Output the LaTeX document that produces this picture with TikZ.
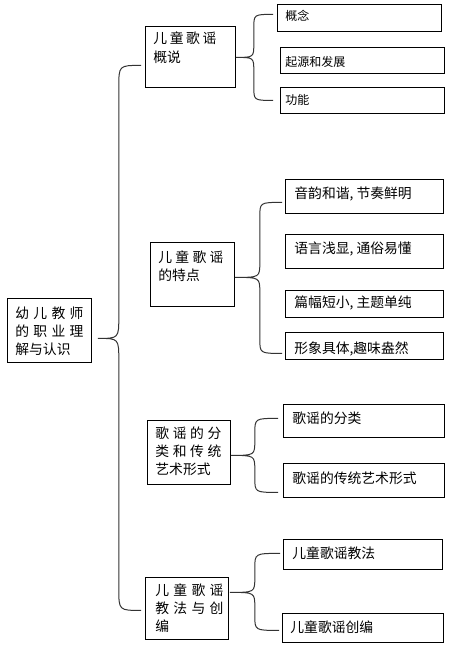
\documentclass[tikz,border=0pt]{standalone}
\usepackage{fontspec}
\newfontfamily\cjk{Noto Sans CJK SC}
\usetikzlibrary{calc}
\newcommand\bxt[5]{\parbox[t][#2][t]{#1}{\leftskip=#3\parindent=0pt\rule{0pt}{#4}#5}}
\newcommand\brc[5]{%
  \draw[brace] let \p1=(#1), \p2=(#2), \p3=(#3), \n1={\x2+#4} in
    (\p1) .. controls (\n1,\y1) .. (\n1,\y1-#5) -- (\n1,\y2+#5)
    .. controls (\n1,\y2) .. (\p2)
    .. controls (\n1,\y2) .. (\n1,\y2-#5) -- (\n1,\y3+#5)
    .. controls (\n1,\y3) .. (\p3);}
\begin{document}
\begin{tikzpicture}[x=1pt,y=-1pt,
  box/.style={draw=black, line width=0.8pt, inner sep=0pt, anchor=north west,
    font=\cjk\fontsize{13.8}{18}\selectfont},
  sbox/.style={box, font=\cjk\fontsize{12}{16}\selectfont},
  brace/.style={draw=black!80, line width=1pt}]
\useasboundingbox (0,0) rectangle (451,647);
% parent boxes
\node[box] (root) at (7,298) {\bxt{84pt}{64pt}{8pt}{20pt}{\makebox[68pt][s]{幼\hfill 儿\hfill 教\hfill 师}\\\makebox[68pt][s]{的\hfill 职\hfill 业\hfill 理}\\解与认识}};
\node[box] (b1) at (145,26) {\bxt{90pt}{61pt}{8pt}{17pt}{\makebox[63pt][s]{儿\hfill 童\hfill 歌\hfill 谣}\\[1pt]概说}};
\node[box] (b2) at (150,242) {\bxt{84pt}{64pt}{8pt}{20pt}{\makebox[65pt][s]{儿\hfill 童\hfill 歌\hfill 谣}\\的特点}};
\node[box] (b3) at (147,420) {\bxt{83pt}{64pt}{8pt}{18pt}{\makebox[66pt][s]{歌\hfill 谣\hfill 的\hfill 分}\\\makebox[66pt][s]{类\hfill 和\hfill 传\hfill 统}\\艺术形式}};
\node[box] (b4) at (145,577) {\bxt{83pt}{62pt}{10pt}{18pt}{\makebox[68pt][s]{儿\hfill 童\hfill 歌\hfill 谣}\\\makebox[68pt][s]{教\hfill 法\hfill 与\hfill 创}\\编}};
% children
\node[sbox] (c11) at (277,4) {\bxt{164pt}{27pt}{8pt}{16.6pt}{概念}};
\node[sbox] (c12) at (280,47) {\bxt{164pt}{26pt}{5pt}{19.3pt}{起源和发展}};
\node[sbox] (c13) at (280,87) {\bxt{164pt}{26pt}{5pt}{17.6pt}{功能}};
\node[box] (c21) at (285,179) {\bxt{158pt}{34pt}{9pt}{19pt}{音韵和谐, 节奏鲜明}};
\node[box] (c22) at (285,234) {\bxt{158pt}{34pt}{9pt}{19pt}{语言浅显, 通俗易懂}};
\node[box] (c23) at (285,290) {\bxt{158pt}{27pt}{9pt}{17pt}{篇幅短小, 主题单纯}};
\node[box] (c24) at (285,332) {\bxt{158pt}{27pt}{9pt}{21pt}{形象具体,趣味盎然}};
\node[box] (c31) at (283,404) {\bxt{161pt}{33pt}{9pt}{19pt}{歌谣的分类}};
\node[box] (c32) at (283,463) {\bxt{161pt}{34pt}{9pt}{20pt}{歌谣的传统艺术形式}};
\node[box] (c41) at (283,539) {\bxt{159pt}{30pt}{9pt}{19pt}{儿童歌谣教法}};
\node[box] (c42) at (282,613) {\bxt{161pt}{29pt}{8pt}{19pt}{儿童歌谣创编}};
% brace end points
\coordinate (m-top) at ([xshift=-4pt,yshift=-8.5pt]b1.west);
\coordinate (m-tip) at ([xshift=6pt,yshift=-8pt]root.east);
\coordinate (m-bot) at ([xshift=-4pt,yshift=-2pt]b4.west);
\coordinate (s1-top) at ([xshift=-4pt,yshift=3.5pt]c11.west);
\coordinate (s1-tip) at ([yshift=-0.5pt]b1.east);
\coordinate (s1-bot) at ([xshift=-7pt]c13.west);
\coordinate (s2-top) at ([xshift=-3pt,yshift=-6pt]c21.west);
\coordinate (s2-tip) at ([yshift=-3pt]b2.east);
\coordinate (s2-bot) at ([xshift=-3pt,yshift=-7.5pt]c24.west);
\coordinate (s3-top) at ([xshift=-5pt,yshift=2.5pt]c31.west);
\coordinate (s3-tip) at ([yshift=-3pt]b3.east);
\coordinate (s3-bot) at ([xshift=-5pt,yshift=-12pt]c32.west);
\coordinate (s4-top) at ([xshift=-3pt,yshift=1pt]c41.west);
\coordinate (s4-tip) at ([xshift=1pt,yshift=16pt]b4.east);
\coordinate (s4-bot) at ([xshift=-3pt,yshift=-2.5pt]c42.west);
% braces
\brc{m-top}{m-tip}{m-bot}{21pt}{22pt}
\brc{s1-top}{s1-tip}{s1-bot}{18pt}{14pt}
\brc{s2-top}{s2-tip}{s2-bot}{25pt}{15pt}
\brc{s3-top}{s3-tip}{s3-bot}{24pt}{15pt}
\brc{s4-top}{s4-tip}{s4-bot}{25pt}{15pt}
\end{tikzpicture}
\end{document}
